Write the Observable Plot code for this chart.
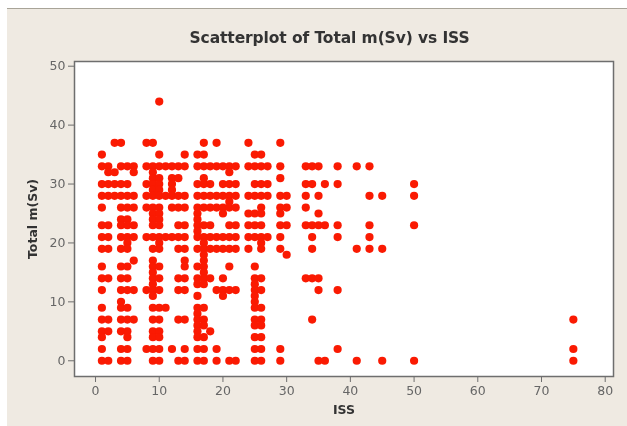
<!DOCTYPE html>
<html><head><meta charset="utf-8">
<script src="https://cdn.jsdelivr.net/npm/d3@7"></script>
<script src="https://cdn.jsdelivr.net/npm/@observablehq/plot@0.6"></script>
<style>
html,body{margin:0;padding:0;background:#fff;width:627px;height:426px;overflow:hidden}
#panel{position:absolute;left:7px;top:8px;width:620px;height:418px;background:#efeae2;border-top:1px solid #a8a498;box-sizing:border-box}
#title{position:absolute;left:0;width:659px;top:29px;text-align:center;font:bold 15.5px "DejaVu Sans",sans-serif;letter-spacing:-.1px;color:#333;filter:blur(.4px)}
#chart{position:absolute;left:0;top:0}
#chart svg{background:transparent;filter:blur(.55px)}
</style></head>
<body>
<div id="panel"></div>
<div id="title">Scatterplot of Total m(Sv) vs ISS</div>
<div id="chart"></div>
<script>
const totalM = [44,37,35,33,32,31,30,29,28,27,26,25,24,23,22,21,20,19,18,17,16,15,14,13,12,11,10,9,8,7,6,5,4,2,0];
const issAtTotalM = [
  [10],
  [3,4,8,9,17,19,24,29],
  [1,10,14,16,17,25,26],
  [1,2,4,5,6,8,9,10,11,12,13,14,16,17,18,19,20,21,22,24,25,26,27,29,33,34,35,38,41,43],
  [2,3,6,9,21],
  [9,10,12,13,17,29],
  [1,2,3,4,5,8,9,10,12,16,17,18,20,21,22,25,26,27,33,34,36,38,50],
  [9,10,12],
  [1,2,3,4,5,6,8,9,10,11,12,13,14,16,17,18,19,20,21,22,24,25,26,27,29,30,33,35,43,45,50],
  [21],
  [1,4,5,6,8,9,10,12,13,14,16,17,18,19,20,21,22,26,29,30,33],
  [9,10,16,20,24,25,26,29,35],
  [4,5,9,10,16],
  [1,2,4,5,6,9,10,13,14,16,17,18,21,22,24,25,26,29,30,33,34,35,36,38,43,50],
  [16],
  [1,2,4,5,6,8,9,10,11,12,13,14,16,17,18,19,20,21,22,24,25,26,27,29,34,38,43],
  [5,10,17,26],
  [1,2,4,5,9,10,13,14,16,17,18,19,20,21,22,24,26,29,34,41,43,45],
  [17,30],
  [6,9,14,17],
  [1,4,5,9,10,14,16,17,21,25],
  [9,17],
  [1,2,4,5,9,10,13,14,16,17,18,20,25,26,33,34,35],
  [9,16,17,25],
  [1,4,5,6,8,9,10,13,14,19,20,21,22,25,26,35,38],
  [9,16,20,25],
  [4,25],
  [1,4,5,9,10,11,16,17,25,26],
  [16],
  [1,2,4,5,6,9,10,13,14,16,17,25,26,34,75],
  [16,17,25,26],
  [1,2,4,5,9,10,16,18],
  [1,5,9,10,16,17,25,26],
  [1,4,5,8,9,10,12,14,16,17,19,25,26,29,38,75],
  [1,2,4,5,9,10,13,14,16,17,19,21,22,25,26,29,35,36,41,45,50,75]
];
const xTicks = [0,10,20,30,40,50,60,70,80];
const yTicks = [0,10,20,30,40,50];
const points = totalM.flatMap((m,i)=>issAtTotalM[i].map(iss=>({iss,m})));
const axisColor = "#6e6e6e";
const chart = Plot.plot({
  width:627, height:426,
  marginTop:61, marginBottom:50, marginLeft:74, marginRight:14,
  style:{background:"transparent",fontFamily:"'DejaVu Sans',sans-serif"},
  x:{domain:[-3.3,81.3]},
  y:{domain:[-2.67,50.8]},
  marks:[
    Plot.frame({fill:"#fff",stroke:axisColor,strokeWidth:1.5}),
    Plot.axisX({ticks:xTicks,tickSize:6,tickPadding:4,fontSize:12.5,color:"#666",stroke:axisColor,label:null}),
    Plot.axisY({ticks:yTicks,tickSize:6,tickPadding:3,fontSize:12.5,color:"#666",stroke:axisColor,label:null}),
    Plot.axisX({ticks:[],label:"ISS",labelAnchor:"center",labelArrow:"none",labelOffset:37,fontSize:12.5,fontWeight:"bold",color:"#333",tickSize:0,dx:-2}),
    Plot.axisY({ticks:[],label:"Total m(Sv)",labelAnchor:"center",labelArrow:"none",labelOffset:46,fontSize:12.5,fontWeight:"bold",color:"#333",tickSize:0}),
    Plot.dot(points,{x:"iss",y:"m",r:4.1,fill:"#fa1a02",stroke:"none"})
  ]
});
document.getElementById("chart").appendChild(chart);
</script>
</body></html>
